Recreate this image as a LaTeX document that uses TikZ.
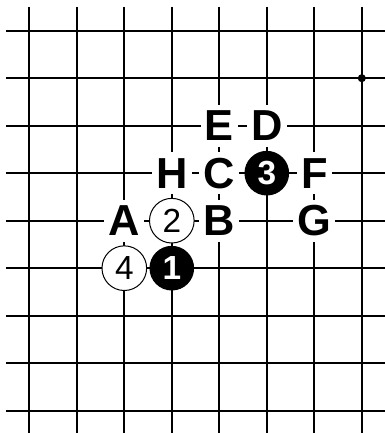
\documentclass[tikz,border=0pt]{standalone}
\usepackage{fontspec}
\setmainfont{Liberation Sans}
\usetikzlibrary{positioning}

\begin{document}
\begin{tikzpicture}[
    gridline/.style={line width=1.2pt},
    bstone/.style={circle, fill=black, text=white, minimum size=0.94cm, inner sep=0pt,
      font=\fontsize{20}{20}\selectfont\bfseries},
    wstone/.style={circle, draw, fill=white, line width=0.6pt, minimum size=0.94cm, inner sep=0pt,
      font=\fontsize{20}{20}\selectfont},
    ptlabel/.style={fill=white, inner xsep=2.5pt, inner ysep=0pt, minimum height=0.88cm,
      font=\fontsize{26}{26}\selectfont\bfseries}]
\useasboundingbox (-0.617,0.646) rectangle (7.488,-8.47);
% board
\foreach \x in {0,...,7}
  \draw[gridline] (\x,0.5) -- (\x,-8.5);
\foreach \y in {0,...,8}
  \draw[gridline] (-0.49,-\y) -- (7.5,-\y);
\fill (7,-1) circle (0.085);
% stones
\node[bstone] (s1) at (3,-5) {1};
\node[wstone] (s2) at (3,-4) {2};
\node[bstone] (s3) at (5,-3) {3};
\node[wstone] (s4) at (2,-5) {4};
% letters
\node[ptlabel] (A) at (2,-4) {A};
\node[ptlabel] (B) at (4,-4) {B};
\node[ptlabel] (C) at (4,-3) {C};
\node[ptlabel] (D) at (5,-2) {D};
\node[ptlabel] (E) at (4,-2) {E};
\node[ptlabel] (F) at (6,-3) {F};
\node[ptlabel] (G) at (6,-4) {G};
\node[ptlabel] (H) at (3,-3) {H};
\end{tikzpicture}
\end{document}
